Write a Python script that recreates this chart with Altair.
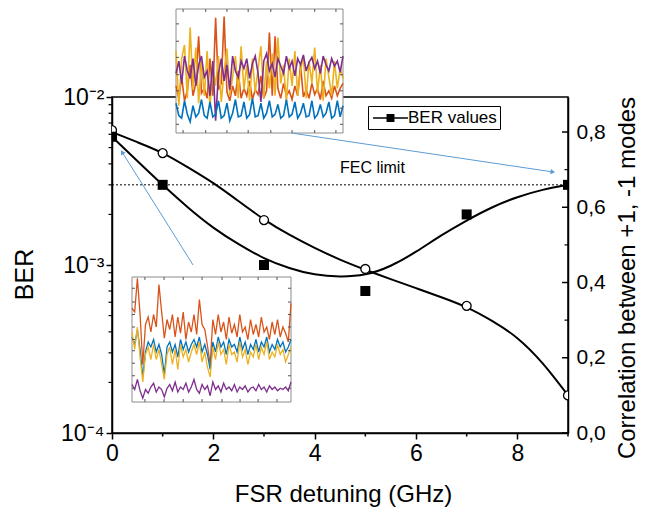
import altair as alt
import pandas as pd

# ---------------- main data ----------------
fsr_pts = [0, 1, 3, 5, 7, 9]
ber_pts = [5.8e-3, 3.0e-3, 1.0e-3, 7.0e-4, 2.0e-3, 3.0e-3]
corr_pts = [0.805, 0.744, 0.566, 0.436, 0.338, 0.100]

fit_x = [0, 0.5, 1, 1.5, 2, 2.5, 3, 3.5, 4, 4.5, 5, 5.5, 6, 6.5, 7, 7.5, 8, 8.5, 9]
ber_fit = [5.8e-3, 4.16e-3, 3.0e-3, 2.20e-3, 1.67e-3, 1.33e-3, 1.10e-3, 0.96e-3, 0.88e-3,
           0.855e-3, 0.88e-3, 0.99e-3, 1.20e-3, 1.50e-3, 1.84e-3, 2.20e-3, 2.53e-3, 2.80e-3, 3.0e-3]
corr_fit = [0.800, 0.773, 0.744, 0.706, 0.664, 0.616, 0.568, 0.527, 0.492, 0.461, 0.434,
            0.409, 0.385, 0.361, 0.334, 0.298, 0.252, 0.185, 0.100]

fec_limit = 3e-3
fec_label = "FEC limit"
fec_label_x = 5.14
fec_label_y = 3.78e-3

x_major = [0, 2, 4, 6, 8]
x_minor = [1, 3, 5, 7, 9]
ber_major = [1e-4, 1e-3, 1e-2]
ber_minor = [2e-4, 3e-4, 4e-4, 5e-4, 6e-4, 7e-4, 8e-4, 9e-4,
             2e-3, 3e-3, 4e-3, 5e-3, 6e-3, 7e-3, 8e-3, 9e-3]
corr_major = [0.0, 0.2, 0.4, 0.6, 0.8]
corr_minor = [0.1, 0.3, 0.5, 0.7]

arrow_x0 = [1.60, 3.55]
arrow_y0 = [1.0e-3, 6.1e-3]
arrow_x1 = [0.20, 8.70]
arrow_y1 = [4.7e-3, 3.58e-3]
arrow_angle = [328, 98.5]

# ---------------- inset data (arbitrary units 0-100) ----------------
top_blue = [24, 14, 12, 26, 15, 9, 22, 13, 16, 27, 14, 12, 25, 13, 15, 26, 12, 14, 24, 10,
            16, 27, 13, 14, 25, 12, 15, 28, 13, 14, 24, 12, 16, 26, 13, 15, 23, 12, 14, 27,
            13, 15, 25, 12, 16, 24, 13, 14, 26, 12, 15, 23, 13, 16, 25, 12, 14, 26, 13, 22]
top_orange = [38, 28, 45, 26, 34, 55, 30, 40, 78, 32, 36, 28, 60, 30, 93, 35, 40, 94, 33, 26,
              38, 30, 50, 28, 36, 30, 42, 27, 35, 31, 46, 28, 34, 81, 30, 78, 36, 28, 40, 30,
              34, 27, 38, 30, 55, 29, 35, 28, 40, 31, 36, 27, 42, 30, 34, 28, 38, 30, 36, 40]
top_yellow = [66, 22, 60, 71, 28, 85, 35, 69, 24, 58, 30, 66, 20, 55, 38, 62, 25, 50, 68, 30,
              45, 62, 28, 70, 35, 55, 26, 60, 33, 52, 70, 28, 58, 36, 64, 30, 77, 40, 55, 25,
              60, 38, 66, 30, 50, 62, 28, 58, 40, 69, 32, 55, 26, 60, 45, 30, 58, 36, 52, 44]
top_purple = [48, 58, 40, 62, 50, 44, 60, 38, 55, 62, 45, 50, 30, 58, 10, 48, 60, 42, 55, 35,
              62, 50, 45, 58, 52, 60, 44, 56, 62, 48, 25, 58, 64, 50, 56, 45, 60, 54, 48, 62,
              52, 58, 46, 60, 55, 63, 50, 57, 61, 52, 58, 48, 62, 55, 50, 60, 54, 58, 49, 62]

bot_orange = [75, 72, 99, 70, 30, 62, 68, 56, 70, 60, 94, 72, 51, 66, 58, 70, 52, 68, 55, 72,
              50, 64, 56, 70, 54, 82, 62, 58, 45, 30, 66, 54, 70, 56, 64, 50, 68, 55, 62, 52,
              70, 56, 60, 50, 66, 54, 62, 52, 68, 56, 60, 50, 64, 54, 66, 52, 60, 55, 48, 79]
bot_blue = [52, 46, 58, 42, 20, 40, 48, 44, 50, 40, 46, 38, 22, 44, 48, 40, 46, 36, 50, 42,
            48, 40, 46, 50, 44, 52, 40, 46, 38, 26, 48, 40, 52, 44, 48, 38, 50, 44, 46, 40,
            52, 42, 48, 38, 46, 42, 50, 40, 48, 44, 52, 40, 46, 42, 50, 44, 48, 40, 44, 50]
bot_yellow = [56, 42, 60, 36, 16, 38, 44, 34, 46, 34, 42, 30, 18, 38, 44, 30, 42, 26, 46, 36,
              42, 32, 40, 46, 38, 48, 32, 40, 28, 20, 44, 34, 48, 38, 42, 30, 46, 38, 40, 32,
              48, 36, 42, 30, 40, 36, 46, 34, 44, 38, 48, 34, 40, 36, 46, 38, 42, 32, 38, 44]
bot_purple = [14, 10, 18, 9, 3, 10, 7, 12, 15, 8, 12, 10, 4, 11, 14, 9, 16, 8, 12, 10,
              15, 8, 12, 18, 10, 7, 14, 10, 13, 5, 16, 10, 13, 8, 15, 10, 12, 9, 14, 8,
              12, 10, 13, 8, 11, 12, 9, 14, 10, 12, 8, 13, 10, 12, 9, 11, 10, 12, 9, 16]

top_xticks = [2.5, 10.5, 18, 25.5, 33.5, 41, 49, 56.5]
top_yticks = [7, 20, 34, 47, 61, 74, 88]
bot_xticks = [4.8, 11.9, 19, 26, 33.4, 40.1, 46.8, 53.8]
bot_yticks = [11, 21, 31, 41, 50, 60, 70, 80, 91]

C_BLUE, C_ORANGE, C_YELLOW, C_PURPLE = "#0072BD", "#D95319", "#EDB120", "#7E2F8E"
ARROW = "#5B9BD5"
FONT = "Liberation Sans"

W, H = 456, 336

# ---------------- scales ----------------
def xs():
    return alt.Scale(domain=[0, 9], nice=False, zero=False)

def ys_ber():
    return alt.Scale(type="log", domain=[1e-4, 1e-2], nice=False)

def ys_corr():
    return alt.Scale(domain=[0, 0.8931], nice=False, zero=False)

fit_df = pd.DataFrame({"x": fit_x, "ber": ber_fit, "corr": corr_fit})
pts_df = pd.DataFrame({"x": fsr_pts, "ber": ber_pts, "corr": corr_pts,
                       "series": ["BER values"] * len(fsr_pts)})

x_axis = alt.Axis(values=x_major, format="d", tickSize=6, labelFontSize=23, labelPadding=3,
                  title="FSR detuning (GHz)", titleFontSize=24, titleX=231, titleY=61,
                  titleAlign="center", titleBaseline="middle")
ber_axis = alt.Axis(values=ber_major, tickSize=6, labelFontSize=23, labelPadding=2,
                    labelExpr="datum.value < 0.0005 ? '10\u207b\u2074' : (datum.value < 0.005 ? '10\u207b\u00b3' : '10\u207b\u00b2')",
                    title="BER", titleFontSize=25, titleAngle=270, titleX=-88, titleY=177,
                    titleAlign="center", titleBaseline="middle", orient="left")
corr_axis = alt.Axis(values=corr_major, tickSize=0, labelFontSize=21, labelPadding=8,
                     labelExpr="replace(format(datum.value, '.1f'), '.', ',')",
                     title="Correlation between +1, -1 modes", titleFontSize=24,
                     titleAngle=270, titleX=59.5, titleY=180.5, titleAlign="center",
                     titleBaseline="middle", orient="right")

ber_line = alt.Chart(fit_df).mark_line(color="black", strokeWidth=2, interpolate="natural").encode(
    x=alt.X("x:Q", scale=xs(), axis=x_axis),
    y=alt.Y("ber:Q", scale=ys_ber(), axis=ber_axis),
)
corr_line = alt.Chart(fit_df).mark_line(color="black", strokeWidth=2, interpolate="natural").encode(
    x=alt.X("x:Q", scale=xs(), axis=None),
    y=alt.Y("corr:Q", scale=ys_corr(), axis=corr_axis),
)

fec_df = pd.DataFrame({"x0": [0], "x1": [9], "y": [fec_limit]})
fec_rule = alt.Chart(fec_df).mark_rule(color="black", strokeWidth=1, strokeDash=[2, 2]).encode(
    x=alt.X("x0:Q", scale=xs(), axis=None), x2="x1:Q",
    y=alt.Y("y:Q", scale=ys_ber(), axis=None),
)
fec_text = alt.Chart(pd.DataFrame({"x": [fec_label_x], "y": [fec_label_y], "t": [fec_label]})).mark_text(
    fontSize=16, font=FONT, color="black", align="center", baseline="middle").encode(
    x=alt.X("x:Q", scale=xs(), axis=None),
    y=alt.Y("y:Q", scale=ys_ber(), axis=None),
    text="t:N",
)

legend_path = ("M-1.94,-0.07L-0.44,-0.07L-0.44,0.07L-1.94,0.07Z "
               "M-0.44,-0.44L0.44,-0.44L0.44,0.44L-0.44,0.44Z "
               "M0.44,-0.07L1.94,-0.07L1.94,0.07L0.44,0.07Z")
ber_points = alt.Chart(pts_df).mark_point(shape="square", filled=True, size=100, opacity=1, clip=True).encode(
    x=alt.X("x:Q", scale=xs(), axis=None),
    y=alt.Y("ber:Q", scale=ys_ber(), axis=None),
    color=alt.Color("series:N", scale=alt.Scale(domain=["BER values"], range=["black"]),
                    legend=alt.Legend(title=None, orient="none", legendX=256, legendY=9,
                                      symbolType=legend_path, symbolSize=324, symbolOffset=10.5,
                                      symbolStrokeWidth=0, labelOffset=8.5, labelFontSize=17,
                                      labelFont=FONT, labelColor="black", padding=3,
                                      strokeColor="black", fillColor="white")),
)
corr_points = alt.Chart(pts_df).mark_circle(fill="white", stroke="black", strokeWidth=1.3, size=80,
                                            opacity=1, clip=True).encode(
    x=alt.X("x:Q", scale=xs(), axis=None),
    y=alt.Y("corr:Q", scale=ys_corr(), axis=None),
)

# minor / inward ticks
xminor = alt.Chart(pd.DataFrame({"x": x_minor})).mark_rule(color="black", strokeWidth=1.5).encode(
    x=alt.X("x:Q", scale=xs(), axis=None), y=alt.value(H), y2=alt.value(H + 3.5))
yminor = alt.Chart(pd.DataFrame({"y": ber_minor})).mark_rule(color="black", strokeWidth=1.2).encode(
    y=alt.Y("y:Q", scale=ys_ber(), axis=None), x=alt.value(0), x2=alt.value(-3.5))
rmajor = alt.Chart(pd.DataFrame({"y": corr_major})).mark_rule(color="black", strokeWidth=1.5).encode(
    y=alt.Y("y:Q", scale=ys_corr(), axis=None), x=alt.value(W), x2=alt.value(W - 6))
rminor = alt.Chart(pd.DataFrame({"y": corr_minor})).mark_rule(color="black", strokeWidth=1.2).encode(
    y=alt.Y("y:Q", scale=ys_corr(), axis=None), x=alt.value(W), x2=alt.value(W - 3.5))

# arrows
arr_df = pd.DataFrame({"x0": arrow_x0, "y0": arrow_y0, "x1": arrow_x1, "y1": arrow_y1, "ang": arrow_angle})
arrow_lines = alt.Chart(arr_df).mark_rule(color=ARROW, strokeWidth=1).encode(
    x=alt.X("x0:Q", scale=xs(), axis=None), x2="x1:Q",
    y=alt.Y("y0:Q", scale=ys_ber(), axis=None), y2="y1:Q")
arrow_heads = alt.Chart(arr_df).mark_point(shape="triangle-up", filled=True, color=ARROW, size=28, opacity=1).encode(
    x=alt.X("x1:Q", scale=xs(), axis=None),
    y=alt.Y("y1:Q", scale=ys_ber(), axis=None),
    angle=alt.Angle("ang:Q", scale=None))


def inset(series, xr, yr, xticks, yticks, sw):
    n = len(series[0][0])
    sx = lambda: alt.Scale(domain=[0, n - 1], range=xr, nice=False, zero=False)
    sy = lambda: alt.Scale(domain=[0, 100], range=yr, nice=False, zero=False)
    frame = alt.Chart(pd.DataFrame({"x0": [0], "x1": [n - 1], "y0": [0], "y1": [100]})).mark_rect(
        fill="white", stroke="#8c8c8c", strokeWidth=1).encode(
        x=alt.X("x0:Q", scale=sx(), axis=None), x2="x1:Q",
        y=alt.Y("y0:Q", scale=sy(), axis=None), y2="y1:Q")
    layers = [frame]
    for vals, col in series:
        d = pd.DataFrame({"i": list(range(n)), "v": vals})
        layers.append(alt.Chart(d).mark_line(color=col, strokeWidth=sw).encode(
            x=alt.X("i:Q", scale=sx(), axis=None),
            y=alt.Y("v:Q", scale=sy(), axis=None)))
    dx = 3.0 * (n - 1) / abs(xr[1] - xr[0])
    dy = 3.0 * 100 / abs(yr[1] - yr[0])
    rows = []
    for t in xticks:
        rows.append({"x": t, "x2": t, "y": 0, "y2": dy})
        rows.append({"x": t, "x2": t, "y": 100, "y2": 100 - dy})
    for t in yticks:
        rows.append({"x": 0, "x2": dx, "y": t, "y2": t})
        rows.append({"x": n - 1, "x2": n - 1 - dx, "y": t, "y2": t})
    layers.append(alt.Chart(pd.DataFrame(rows)).mark_rule(color="#555555", strokeWidth=1).encode(
        x=alt.X("x:Q", scale=sx(), axis=None), x2="x2:Q",
        y=alt.Y("y:Q", scale=sy(), axis=None), y2="y2:Q"))
    return layers


top_inset = inset([(top_orange, C_ORANGE), (top_yellow, C_YELLOW), (top_purple, C_PURPLE), (top_blue, C_BLUE)],
                  [64, 231], [36, -88], top_xticks, top_yticks, 1.6)
bot_inset = inset([(bot_orange, C_ORANGE), (bot_blue, C_BLUE), (bot_yellow, C_YELLOW), (bot_purple, C_PURPLE)],
                  [20, 179], [305, 180], bot_xticks, bot_yticks, 1.3)

chart = alt.layer(
    ber_line, corr_line, fec_rule, fec_text, xminor, yminor, rmajor, rminor,
    *bot_inset, *top_inset, arrow_lines, arrow_heads, corr_points, ber_points,
).resolve_scale(
    x="independent", y="independent", color="independent"
).properties(
    width=W, height=H,
    autosize=alt.AutoSizeParams(type="none"),
    padding={"left": 104, "top": 89, "right": 81, "bottom": 79},
).configure_view(
    stroke="black", strokeWidth=1.5
).configure_axis(
    labelFont=FONT, titleFont=FONT, grid=False, domainColor="black", tickColor="black",
    labelColor="black", titleColor="black", titleFontWeight="normal", domainWidth=1.5,
    tickWidth=1.5, labelFlush=False, labelOverlap=False
)

chart.save("out.html", embed_options={"renderer": "svg", "actions": False})
